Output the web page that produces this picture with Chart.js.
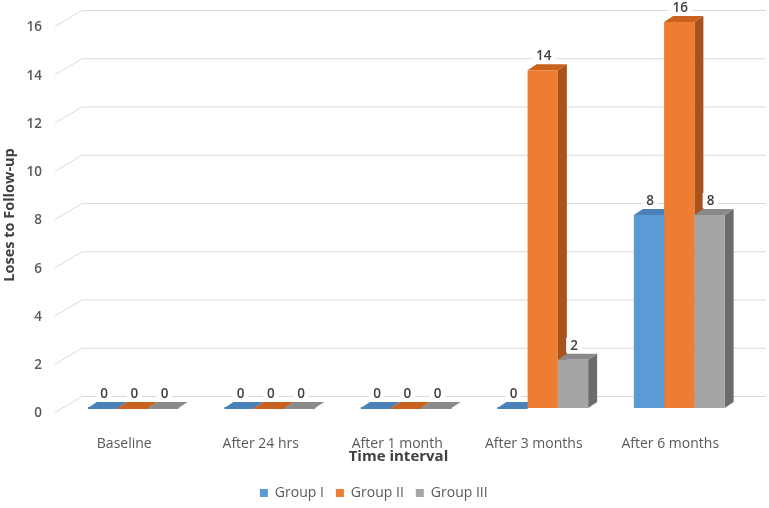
<!DOCTYPE html>
<html><head><meta charset="utf-8">
<script src="https://cdn.jsdelivr.net/npm/chart.js@4"></script>
<style>html,body{margin:0;padding:0;background:#fff}#wrap{width:769px;height:508px;position:relative}</style>
</head><body><div id="wrap"><canvas id="c" width="769" height="508"></canvas></div>
<script>
const categories = ['Baseline', 'After 24 hrs', 'After 1 month', 'After 3 months', 'After 6 months'];
const groupI = [0, 0, 0, 0, 8];
const groupII = [0, 0, 0, 14, 16];
const groupIII = [0, 0, 0, 2, 8];
const seriesNames = ['Group I', 'Group II', 'Group III'];
const yTickValues = [0, 2, 4, 6, 8, 10, 12, 14, 16];

const frontColors = ['#5B9BD5', '#ED7D31', '#A5A5A5'];
const topColors = ['#4A82B8', '#C9621F', '#8A8A8A'];
const sideColors = ['#3E6F9E', '#A8531B', '#6C6C6C'];
const DX = 9, DY = -6;
const FONT = "'Open Sans', sans-serif";

const bars3d = {
  id: 'bars3d',
  beforeDatasetsDraw(chart) {
    const ctx = chart.ctx;
    const ys = chart.scales.y;
    ctx.save();
    ctx.strokeStyle = '#D9D9D9';
    ctx.lineWidth = 1;
    ys.ticks.forEach(t => {
      const yf = ys.getPixelForValue(t.value);
      ctx.beginPath();
      ctx.moveTo(55, yf + 4.5);
      ctx.lineTo(82, yf - 11.5);
      ctx.lineTo(766, yf - 11.5);
      ctx.stroke();
    });
    ctx.restore();
    const n = chart.data.labels.length;
    for (let i = 0; i < n; i++) {
      chart.data.datasets.forEach((ds, d) => {
        const el = chart.getDatasetMeta(d).data[i];
        const l = el.x - el.width / 2, r = el.x + el.width / 2;
        const y = el.y, b = el.base;
        ctx.save();
        if (b - y > 0.5) {
          ctx.fillStyle = sideColors[d];
          ctx.beginPath();
          ctx.moveTo(r, y); ctx.lineTo(r + DX, y + DY); ctx.lineTo(r + DX, b + DY); ctx.lineTo(r, b);
          ctx.closePath(); ctx.fill();
        }
        ctx.fillStyle = topColors[d];
        ctx.beginPath();
        ctx.moveTo(l, y); ctx.lineTo(l + DX, y + DY); ctx.lineTo(r + DX, y + DY); ctx.lineTo(r, y);
        ctx.closePath(); ctx.fill();
        if (b - y <= 0.5) {
          ctx.fillRect(l, y - 1, el.width, 2);
        }
        ctx.restore();
      });
    }
  },
  afterDatasetsDraw(chart) {
    const ctx = chart.ctx;
    ctx.save();
    ctx.font = "600 13.5px " + FONT;
    ctx.textAlign = 'center';
    ctx.textBaseline = 'middle';
    chart.data.datasets.forEach((ds, d) => {
      chart.getDatasetMeta(d).data.forEach((el, i) => {
        const txt = String(ds.data[i]);
        const w = ctx.measureText(txt).width + 8;
        const cx = el.x + 1, cy = el.y - 14;
        ctx.fillStyle = '#FFFFFF';
        ctx.fillRect(cx - w / 2, cy - 8, w, 15);
        ctx.fillStyle = '#404040';
        ctx.fillText(txt, cx, cy);
      });
    });
    ctx.restore();
  }
};

const chart = new Chart(document.getElementById('c'), {
  type: 'bar',
  data: {
    labels: categories,
    datasets: [
      { label: seriesNames[0], data: groupI, backgroundColor: frontColors[0], borderWidth: 0 },
      { label: seriesNames[1], data: groupII, backgroundColor: frontColors[1], borderWidth: 0 },
      { label: seriesNames[2], data: groupIII, backgroundColor: frontColors[2], borderWidth: 0 }
    ]
  },
  options: {
    responsive: false,
    animation: false,
    layout: { padding: { top: 22, right: 21.5, bottom: -2, left: 0 } },
    datasets: { bar: { categoryPercentage: 0.665, barPercentage: 1 } },
    plugins: {
      legend: {
        position: 'bottom',
        labels: { boxWidth: 8, boxHeight: 8, padding: 12, color: '#595959', font: { family: FONT, size: 14 } }
      },
      tooltip: { enabled: false }
    },
    scales: {
      x: {
        grid: { display: false, drawTicks: false },
        border: { display: false },
        ticks: { color: '#595959', font: { family: FONT, size: 14 }, padding: 28, labelOffset: -9, maxRotation: 0 },
        title: { display: true, text: 'Time interval\u00A0\u00A0\u00A0\u00A0', color: '#404040', font: { family: FONT, size: 15, weight: 'bold' }, padding: { top: 0, bottom: 8 } },
        afterFit(s) { s.height = 66; }
      },
      y: {
        min: 0, max: 16,
        afterBuildTicks(s) { s.ticks = yTickValues.map(v => ({ value: v })); },
        grid: { display: false, drawTicks: true, tickLength: 20 },
        border: { display: false },
        ticks: { color: '#595959', font: { family: FONT, size: 13.5, weight: '600' }, padding: 3, labelOffset: 5.5 },
        title: { display: true, text: 'Loses to Follow-up', color: '#404040', font: { family: FONT, size: 14.5, weight: 'bold' }, padding: { top: 1, bottom: 0 } },
        afterFit(s) { s.width = 65; }
      }
    }
  },
  plugins: [bars3d]
});
</script></body></html>
